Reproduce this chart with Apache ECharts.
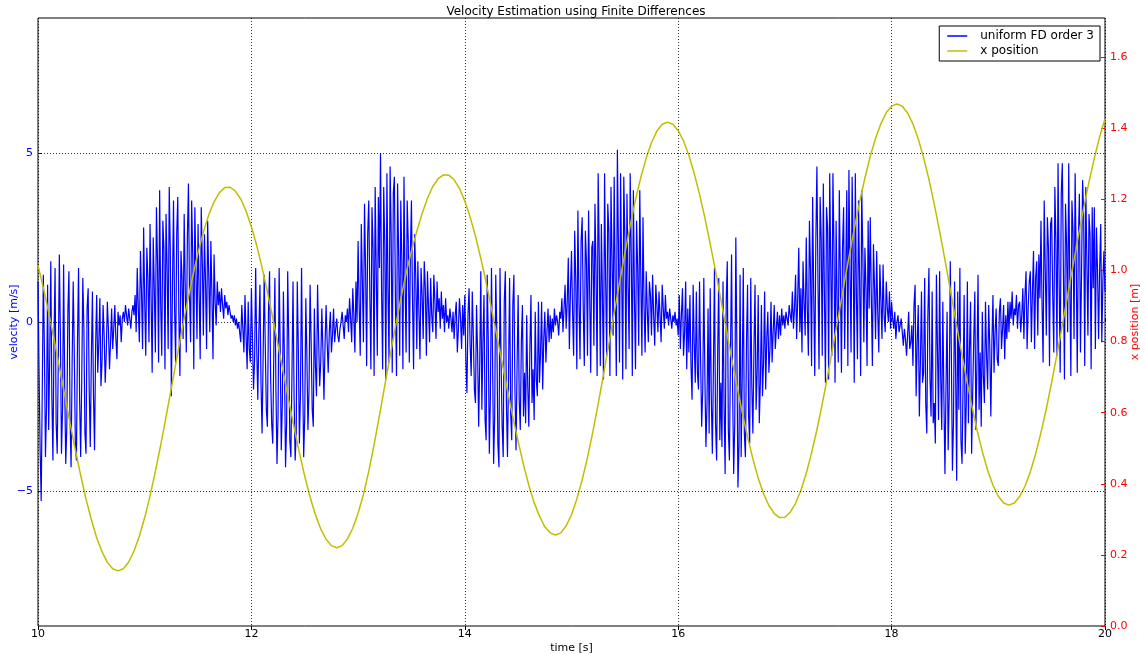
<!DOCTYPE html>
<html><head><meta charset="utf-8">
<script src="https://cdn.jsdelivr.net/npm/echarts@6/dist/echarts.min.js"></script>
<style>html,body{margin:0;padding:0;background:#fff}#c{width:1145px;height:654px}</style>
</head><body><div id="c"></div>
<script>
const T0 = 10;
const VEL_DT = 0.01;
const POS_DT = 0.05;

const velocity = [
1.2,-1.5,-3.8,-5.3,-2.0,1.4,-0.8,-4.0,-2.5,1.1,
-3.2,-1.0,1.8,-2.2,-4.1,-0.5,1.6,-3.0,-3.9,-1.2,
2.0,-0.4,-3.9,-2.6,1.7,-1.8,-4.2,-3.1,0.3,1.5,
-2.8,-4.3,-1.2,1.2,-0.9,-3.6,-4.1,-0.6,1.6,-2.3,
-4.0,-1.7,1.3,-0.2,-3.3,-3.9,0.4,1.0,-2.0,-3.7,
-1.1,0.9,-2.2,-3.8,-0.7,0.8,-1.5,-0.6,0.7,-1.9,
-1.2,0.5,-0.4,-1.8,-0.9,0.6,-0.2,-1.4,-0.6,0.4,
-0.8,-0.2,0.5,-0.5,-1.1,0.3,-0.1,0.2,-0.6,0.1,
0.3,0.0,0.5,0.2,-0.1,0.4,0.1,-0.2,0.3,0.5,
0.2,0.8,-0.3,1.6,0.4,-0.6,2.1,0.9,-0.8,2.8,
0.6,-1.0,2.2,1.3,-0.6,2.9,0.7,-1.5,2.5,1.0,
-0.9,3.4,1.8,-1.2,3.9,0.5,-1.0,3.0,2.2,-1.4,
3.2,1.6,-0.8,4.0,2.1,-2.2,1.0,3.6,0.4,-1.2,
2.6,3.7,0.2,-1.6,2.1,1.3,-0.5,3.2,1.0,-0.9,
2.5,4.1,0.8,-0.6,3.6,2.0,-1.4,3.4,1.5,-0.5,
2.9,0.9,-1.1,3.4,1.8,-0.4,2.6,1.2,-0.8,3.0,
1.4,-0.3,2.4,0.8,-1.1,2.0,0.6,-0.1,1.2,0.5,
0.9,0.3,1.0,0.5,0.1,0.8,0.4,0.6,0.2,0.5,
0.3,0.1,0.2,0.0,0.2,-0.1,0.1,-0.2,0.0,-0.3,
-0.6,0.5,-0.2,-0.9,0.8,-0.4,-1.4,0.6,-0.8,-1.2,
1.0,-0.5,-2.0,-1.1,1.6,-0.8,-2.3,-0.3,1.1,-1.8,
-3.3,-1.0,1.4,-0.7,-2.6,-3.1,0.3,1.5,-1.6,-3.0,
-3.6,-0.9,1.3,-2.0,-4.2,-2.7,1.6,-0.8,-3.8,-2.4,
0.9,-1.2,-4.3,-3.0,1.5,-0.5,-3.5,-4.0,-1.6,1.2,
-2.2,-4.1,-3.3,1.2,-0.8,-3.6,-2.1,1.6,-1.5,-4.0,
-2.8,0.7,-1.0,-3.2,-2.0,1.1,-0.6,-2.6,-3.1,0.4,
-1.3,-2.2,1.1,-0.5,-1.9,-1.2,0.4,-0.8,-2.3,-0.7,
0.5,-0.6,-1.5,-0.3,0.3,-0.9,-0.4,0.4,-0.6,-0.2,
0.1,-0.4,-0.6,-0.2,0.0,0.3,-0.1,-0.5,0.2,0.0,
0.4,-0.3,0.7,0.1,-0.6,1.0,0.2,-0.9,1.2,0.0,
2.4,0.5,-1.0,2.9,1.2,-0.6,3.5,1.6,-1.3,2.6,
3.6,0.8,-1.4,3.4,2.2,-1.6,4.0,1.5,-1.0,3.7,
1.6,5.0,0.9,-1.4,4.0,2.3,-1.7,4.4,1.0,-1.2,
4.6,2.6,-1.5,3.8,4.3,0.6,-1.6,4.1,2.0,-1.0,
3.6,1.8,-1.4,4.3,1.2,-0.9,3.6,2.4,-1.2,2.0,
3.6,0.6,-1.4,2.6,1.4,-0.8,1.8,0.3,-1.1,1.6,
0.8,-0.5,1.8,1.0,-1.0,1.5,0.4,-0.6,1.3,0.2,
-0.3,1.4,0.6,-0.5,1.2,0.3,0.7,-0.2,0.9,0.1,
0.5,-0.3,0.7,0.0,0.2,-0.2,0.4,0.1,-0.3,0.3,
-0.5,0.2,0.6,-0.9,-0.2,0.7,0.1,-0.8,0.5,-0.4,
0.8,-1.1,-2.1,0.2,1.0,-0.7,-1.6,0.9,-0.4,-2.0,
-2.4,0.5,-0.9,-3.1,-1.2,1.5,-2.6,-0.6,0.8,-2.9,
-3.5,1.4,-0.5,-3.9,-2.2,1.6,-1.0,-4.2,-2.8,1.4,
-0.3,-3.6,-4.3,1.6,-1.2,-3.1,-4.0,0.6,1.5,-2.4,
-4.0,-1.5,1.3,-2.7,-3.5,0.5,1.4,-2.0,-3.8,-1.3,
0.8,-2.3,-3.2,-0.6,0.5,-2.8,-1.5,-3.0,0.2,-1.9,
-3.1,-0.8,0.8,-2.4,-1.4,-2.9,0.3,-1.7,-2.2,0.6,
-1.8,-0.9,0.6,-2.0,-0.5,0.3,-1.2,-0.3,0.4,-0.6,
0.2,-0.5,0.1,-0.3,0.4,-0.1,0.2,0.0,-0.4,0.3,
0.1,0.7,-0.3,0.4,1.1,-0.2,0.6,1.9,-0.8,0.9,
2.1,0.3,-1.0,2.7,1.2,-1.4,3.3,0.6,-1.1,2.4,
3.1,0.4,-1.3,2.7,1.8,-1.0,3.3,0.9,-1.5,2.2,
2.4,-0.7,3.5,1.5,-1.6,4.4,2.0,-1.3,2.9,0.8,
-1.7,4.4,1.2,-1.0,3.5,2.7,-1.6,4.0,1.9,-0.4,
4.3,1.0,-1.6,5.1,2.2,-1.2,4.4,1.5,-1.7,4.3,
2.5,-1.4,3.8,1.1,-0.8,4.4,2.0,-1.6,3.9,0.7,
-1.4,3.0,1.6,-0.7,3.9,1.2,-1.0,3.1,0.5,-0.9,
1.5,0.4,-0.6,1.2,0.8,-0.4,1.4,0.2,-0.7,1.1,
0.5,-0.3,0.9,0.2,-0.6,1.1,0.4,-0.2,0.8,0.1,
0.3,-0.1,0.4,0.1,-0.2,0.2,0.0,0.3,-0.1,0.1,
-0.4,0.8,-0.8,0.2,1.0,-1.0,-0.3,1.2,-1.4,0.4,
-0.9,0.8,-1.3,-2.3,1.1,-0.6,-1.8,0.9,-1.5,-2.0,
1.2,-1.1,-3.1,-2.0,1.3,-1.6,-3.7,-2.4,0.4,-3.3,
1.0,-2.2,-3.9,-1.4,1.6,-3.0,-4.1,-0.9,1.3,-3.5,
-1.8,-3.7,1.2,-2.5,-4.5,0.6,1.8,-3.2,-4.1,-1.0,
2.0,-2.0,-4.5,-3.0,2.5,-0.8,-4.9,-3.6,1.4,-4.0,
-1.6,1.6,-3.3,-4.0,-0.6,1.1,-2.8,-3.6,1.3,-1.9,
-3.3,-0.8,1.1,-2.6,-1.5,0.8,-3.0,-1.8,0.5,-2.2,
-1.2,0.9,-2.0,-0.5,0.3,-1.5,-0.8,0.6,-1.2,-0.3,
0.5,-0.8,-0.2,0.3,-0.5,0.2,-0.4,0.4,-0.1,0.2,
-0.2,0.3,0.1,-0.1,0.5,0.2,0.0,0.9,-0.2,0.4,
1.4,-0.5,0.7,2.2,-0.3,1.0,-0.9,1.8,0.6,-0.4,
2.5,0.4,-1.0,3.0,1.5,-1.3,3.7,0.8,-1.6,2.4,
4.6,1.2,-1.4,3.7,2.5,-1.0,4.1,0.9,-1.8,3.4,
2.8,-1.7,4.4,1.6,-1.0,4.4,2.2,-1.8,3.0,0.5,
-1.2,3.9,1.3,-1.5,2.2,3.4,-0.8,1.5,3.9,-1.3,
4.5,1.5,-0.9,4.3,2.0,-1.8,4.4,0.8,-1.1,3.6,
1.2,-1.6,3.9,2.1,-0.6,2.2,1.0,-1.3,3.0,0.4,
3.1,0.7,-1.3,2.3,1.0,-0.5,2.1,0.3,-0.9,1.7,
0.6,-0.5,1.7,0.2,-0.3,1.2,0.4,0.0,0.9,-0.2,
0.6,0.1,-0.2,0.3,-0.5,0.0,0.2,-0.3,-0.1,0.1,
-0.3,-0.7,-0.2,-0.5,-1.0,-0.4,0.3,-0.8,-0.6,-0.1,
-1.3,0.5,1.1,-2.2,-0.6,0.5,-2.8,-1.2,0.9,-1.8,
-1.5,1.3,-2.4,-3.3,0.2,1.6,-1.7,-2.8,0.9,-3.0,
-2.4,-3.6,1.4,-0.8,-2.9,1.5,-1.6,-3.2,0.6,-2.2,
-4.5,-1.9,0.3,-3.8,-2.2,1.8,-0.9,-4.4,-3.0,1.2,
-1.5,-4.7,0.9,-2.6,1.6,-3.5,-4.2,-1.8,0.8,-3.9,
-2.4,1.2,-3.0,-0.8,0.6,-3.9,-2.1,-0.5,0.9,-3.2,
-1.2,1.4,-2.6,-0.9,-3.1,0.3,-1.6,-2.4,0.6,-1.0,
-2.0,0.5,-0.7,-2.8,-0.6,0.8,-1.5,-0.3,0.4,-1.1,
-1.3,0.3,0.7,-0.8,-0.2,0.5,-1.1,0.2,-0.5,0.6,
-0.3,0.6,0.1,0.9,-0.1,0.4,0.2,0.8,-0.2,0.5,
0.6,-0.3,0.2,1.0,-0.5,0.8,1.5,-0.8,0.4,1.2,
1.5,-0.6,0.9,2.1,-0.8,1.3,1.8,-0.4,2.0,0.7,
3.0,0.5,-1.2,3.6,1.6,-0.4,3.1,2.2,-1.3,2.9,
3.1,0.8,-0.9,4.0,2.4,-1.0,4.7,1.3,-1.5,3.8,
4.7,1.6,-1.7,3.5,2.3,-0.3,4.7,1.1,-1.6,3.6,
2.7,-0.5,4.4,1.9,-1.5,2.3,3.8,-0.9,1.4,4.2,
3.2,-1.3,4.0,1.8,-0.4,3.2,2.6,-1.4,3.4,1.0,
3.4,-0.8,2.8,1.5,-0.5,1.6,2.9,-0.6,1.2,2.1,
0.9
];

const position = [
1.015,0.951,0.882,0.807,0.729,0.650,0.571,0.495,0.424,0.357,
0.299,0.248,0.209,0.179,0.161,0.155,0.161,0.180,0.211,0.253,
0.305,0.366,0.435,0.509,0.588,0.670,0.752,0.834,0.911,0.983,
1.050,1.108,1.156,1.193,1.219,1.233,1.234,1.223,1.201,1.167,
1.123,1.070,1.008,0.940,0.867,0.790,0.712,0.634,0.559,0.487,
0.421,0.363,0.313,0.273,0.244,0.226,0.220,0.226,0.245,0.275,
0.317,0.370,0.435,0.510,0.592,0.676,0.760,0.842,0.920,0.992,
1.055,1.110,1.160,1.203,1.236,1.258,1.269,1.268,1.255,1.231,
1.195,1.150,1.097,1.034,0.966,0.893,0.817,0.740,0.663,0.588,
0.519,0.454,0.396,0.347,0.309,0.279,0.262,0.256,0.262,0.282,
0.313,0.357,0.411,0.474,0.546,0.625,0.707,0.793,0.880,0.966,
1.048,1.127,1.199,1.262,1.316,1.360,1.392,1.411,1.417,1.411,
1.393,1.364,1.324,1.273,1.214,1.148,1.075,0.998,0.918,0.836,
0.754,0.676,0.601,0.532,0.470,0.416,0.372,0.339,0.316,0.305,
0.306,0.320,0.345,0.382,0.429,0.487,0.552,0.625,0.703,0.785,
0.869,0.954,1.037,1.117,1.192,1.260,1.321,1.372,1.413,1.444,
1.462,1.468,1.462,1.443,1.412,1.370,1.317,1.256,1.186,1.110,
1.030,0.946,0.862,0.778,0.698,0.622,0.552,0.491,0.438,0.396,
0.365,0.346,0.340,0.346,0.364,0.393,0.434,0.484,0.544,0.611,
0.685,0.764,0.846,0.930,1.014,1.096,1.175,1.249,1.316,1.376,
1.426
];

const xTicks = [10, 12, 14, 16, 18, 20];
const velTicks = [-5, 0, 5];
const seriesNames = ['uniform FD order 3', 'x position'];

const velData = velocity.map((v, i) => [+(T0 + i * VEL_DT).toFixed(2), v]);
const posData = position.map((v, i) => [+(T0 + i * POS_DT).toFixed(2), v]);

const FONT = 'DejaVu Sans';
const minus = s => String(s).replace('-', '\u2212');
const grid = { type: [1, 2], color: '#000', width: 1, opacity: 0.8 };

const chart = echarts.init(document.getElementById('c'), null, { renderer: 'canvas' });
chart.setOption({
  animation: false,
  backgroundColor: '#fff',
  title: {
    text: 'Velocity Estimation using Finite Differences',
    left: 571, textAlign: 'center', top: 1,
    textStyle: { fontFamily: FONT, fontSize: 12, fontWeight: 'normal', color: '#000' }
  },
  grid: { left: 38, right: 40, top: 18, bottom: 28, containLabel: false, outerBoundsMode: 'none',
    show: true, borderColor: '#000', borderWidth: 1, backgroundColor: 'transparent' },
  legend: {
    right: 45, top: 26, orient: 'vertical',
    data: seriesNames,
    icon: 'rect', itemWidth: 20, itemHeight: 1.5, itemGap: 3,
    borderColor: '#000', borderWidth: 1, borderRadius: 0,
    padding: [4, 6, 4, 8],
    backgroundColor: '#fff',
    textStyle: { fontFamily: FONT, fontSize: 12, color: '#000', padding: [0, 0, 0, 8] }
  },
  xAxis: [{
    type: 'value', min: 10, max: 20, interval: 2, position: 'bottom',
    name: 'time [s]', nameLocation: 'middle', nameGap: 17, nameMoveOverlap: false,
    nameTextStyle: { fontFamily: FONT, fontSize: 11, color: '#000' },
    axisLine: { show: false },
    axisTick: { inside: true, length: 4, lineStyle: { color: '#000' } },
    axisLabel: { fontFamily: FONT, fontSize: 11, color: '#000', margin: 3 },
    splitLine: { show: true, lineStyle: grid }
  }, {
    type: 'value', min: 10, max: 20, interval: 2, position: 'top',
    axisLine: { show: false },
    axisTick: { inside: true, length: 4, lineStyle: { color: '#000' } },
    axisLabel: { show: false }, splitLine: { show: false }
  }],
  yAxis: [{
    type: 'value', min: -9, max: 9, position: 'left',
    name: 'velocity [m/s]', nameLocation: 'middle', nameGap: 18, nameRotate: 90, nameMoveOverlap: false,
    nameTextStyle: { fontFamily: FONT, fontSize: 11, color: '#0000ff' },
    axisLine: { show: false },
    axisTick: { inside: true, length: 4, customValues: velTicks, lineStyle: { color: '#0000ff' } },
    axisLabel: { customValues: velTicks, formatter: v => minus(v), fontFamily: FONT, fontSize: 11, color: '#0000ff', margin: 5 },
    splitLine: { show: false }
  }, {
    type: 'value', min: 0, max: 1.71, interval: 0.2, position: 'right',
    name: 'x position [m]', nameLocation: 'middle', nameGap: 25, nameRotate: 90, nameMoveOverlap: false,
    nameTextStyle: { fontFamily: FONT, fontSize: 11, color: '#ff0000' },
    axisLine: { show: false },
    axisTick: { inside: true, length: 4, lineStyle: { color: '#ff0000' } },
    axisLabel: { formatter: v => v.toFixed(1), showMaxLabel: false, fontFamily: FONT, fontSize: 11, color: '#ff0000', margin: 5 },
    splitLine: { show: false }
  }],
  series: [{
    name: seriesNames[0], type: 'line', data: velData, xAxisIndex: 0, yAxisIndex: 0,
    showSymbol: false, symbol: 'none',
    lineStyle: { color: '#0000ff', width: 1.2 }, itemStyle: { color: '#0000ff' },
    z: 3,
    markLine: { silent: true, symbol: 'none', label: { show: false }, lineStyle: grid,
      data: velTicks.map(v => ({ yAxis: v })) }
  }, {
    name: seriesNames[1], type: 'line', data: posData, xAxisIndex: 0, yAxisIndex: 1,
    showSymbol: false, symbol: 'none',
    lineStyle: { color: '#bfbf00', width: 1.5 }, itemStyle: { color: '#bfbf00' },
    z: 4
  }]
});
</script>
</body></html>
